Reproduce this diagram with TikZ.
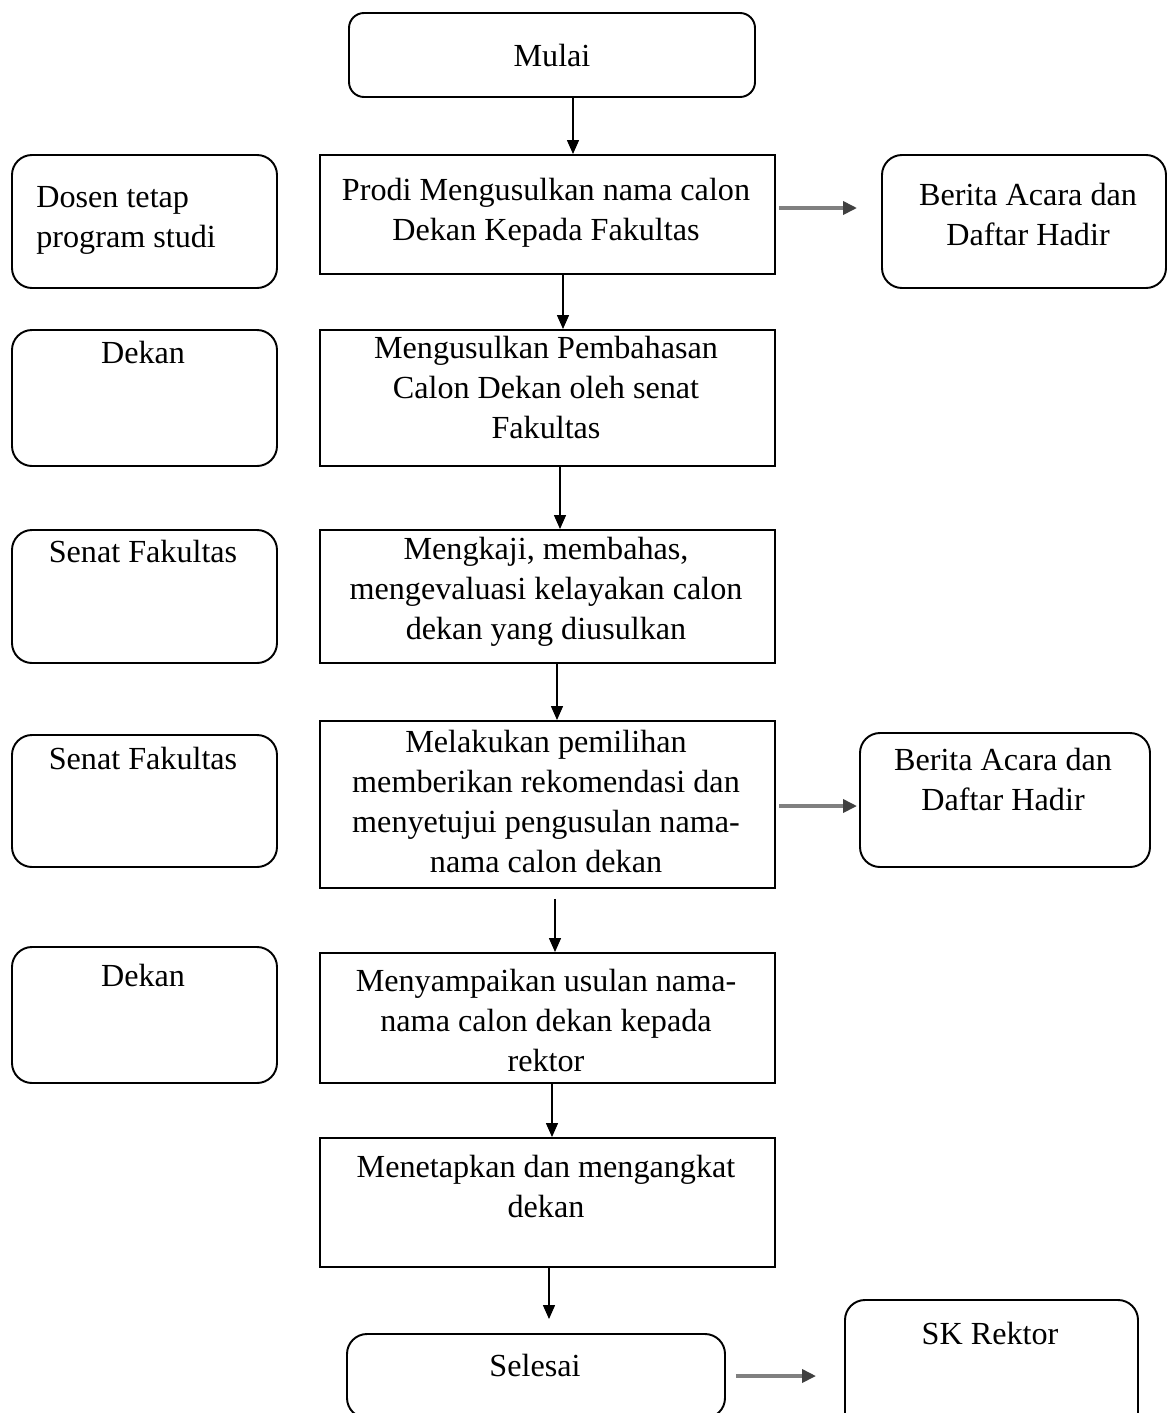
\documentclass[tikz,border=0pt]{standalone}
\usepackage{fontspec}
\setmainfont{Liberation Serif}
\usetikzlibrary{arrows.meta}
\definecolor{arrowgray}{HTML}{808080}

\begin{document}
\begin{tikzpicture}[font=\fontsize{18.3}{22.7}\selectfont,
  procbox/.style={draw, line width=1.1pt, minimum width=9.10cm, inner sep=0pt},
  rolebox/.style={draw, line width=1.1pt, rounded corners=0.4cm, minimum width=5.30cm, inner sep=0pt},
  boxtext/.style={anchor=north, align=center, inner sep=0pt},
  flow/.style={-{Triangle[length=0.28cm, width=0.24cm]}, line width=0.8pt},
  docflow/.style={-{Triangle[length=0.28cm, width=0.26cm, color=black!75]}, line width=2pt, arrowgray}]
\useasboundingbox (0,0) rectangle (23.34,-28.26);
\clip (0,0) rectangle (23.34,-28.26);

% Start
\node[draw, line width=1.1pt, rounded corners=0.3cm, minimum width=8.12cm, minimum height=1.68cm] (mulai) at (11.04,-1.10) {Mulai};

% Left column: who does it
\node[rolebox, minimum height=2.66cm] (dosen) at (2.89,-4.43) {};
\node[boxtext, anchor=north west, align=left] (dosentxt) at (0.72,-3.72) {Dosen tetap\\program studi};
\node[rolebox, minimum height=2.72cm] (dekanA) at (2.89,-7.96) {};
\node[boxtext] (dekanAtxt) at (2.86,-6.82) {Dekan};
\node[rolebox, minimum height=2.66cm] (senatA) at (2.89,-11.93) {};
\node[boxtext] (senatAtxt) at (2.86,-10.80) {Senat Fakultas};
\node[rolebox, minimum height=2.64cm] (senatB) at (2.89,-16.02) {};
\node[boxtext] (senatBtxt) at (2.86,-14.94) {Senat Fakultas};
\node[rolebox, minimum height=2.72cm] (dekanB) at (2.89,-20.30) {};
\node[boxtext] (dekanBtxt) at (2.86,-19.28) {Dekan};

% Middle column: steps
\node[procbox, minimum height=2.38cm] (p1) at (10.95,-4.29) {};
\node[boxtext] (p1txt) at (10.92,-3.56) {Prodi Mengusulkan nama calon\\Dekan Kepada Fakultas};
\node[procbox, minimum height=2.72cm] (p2) at (10.95,-7.96) {};
\node[boxtext] (p2txt) at (10.92,-6.72) {Mengusulkan Pembahasan\\Calon Dekan oleh senat\\Fakultas};
\node[procbox, minimum height=2.66cm] (p3) at (10.95,-11.93) {};
\node[boxtext] (p3txt) at (10.92,-10.74) {Mengkaji, membahas,\\mengevaluasi kelayakan calon\\dekan yang diusulkan};
\node[procbox, minimum height=3.34cm] (p4) at (10.95,-16.09) {};
\node[boxtext] (p4txt) at (10.92,-14.60) {Melakukan pemilihan\\memberikan rekomendasi dan\\menyetujui pengusulan nama-\\nama calon dekan};
\node[procbox, minimum height=2.60cm] (p5) at (10.95,-20.36) {};
\node[boxtext] (p5txt) at (10.92,-19.38) {Menyampaikan usulan nama-\\nama calon dekan kepada\\rektor};
\node[procbox, minimum height=2.58cm] (p6) at (10.95,-24.05) {};
\node[boxtext] (p6txt) at (10.92,-23.10) {Menetapkan dan mengangkat\\dekan};

% End
\node[rolebox, minimum width=7.56cm, minimum height=1.68cm] (selesai) at (10.72,-27.52) {};
\node[boxtext] (selesaitxt) at (10.70,-27.08) {Selesai};

% Right column: documents
\node[rolebox, minimum width=5.68cm, minimum height=2.66cm] (berita1) at (20.48,-4.43) {};
\node[boxtext] (berita1txt) at (20.56,-3.66) {Berita Acara dan\\Daftar Hadir};
\node[rolebox, minimum width=5.80cm, minimum height=2.68cm] (berita2) at (20.10,-16.00) {};
\node[boxtext] (berita2txt) at (20.06,-14.96) {Berita Acara dan\\Daftar Hadir};
\node[rolebox, minimum width=5.86cm, minimum height=3.04cm] (skrektor) at (19.83,-27.52) {};
\node[boxtext] (skrektortxt) at (19.80,-26.44) {SK Rektor};

% Flow
\draw[flow] ([xshift=0.42cm]mulai.south) -- ([xshift=0.51cm]p1.north);
\draw[flow] ([xshift=0.31cm]p1.south) -- ([xshift=0.31cm]p2.north);
\draw[flow] ([xshift=0.25cm]p2.south) -- ([xshift=0.25cm]p3.north);
\draw[flow] ([xshift=0.19cm]p3.south) -- ([xshift=0.19cm]p4.north);
\draw[flow] ([xshift=0.15cm,yshift=-0.2cm]p4.south) -- ([xshift=0.15cm]p5.north);
\draw[flow] ([xshift=0.09cm]p5.south) -- ([xshift=0.09cm]p6.north);
\draw[flow] ([xshift=0.03cm]p6.south) -- ([xshift=0.26cm,yshift=0.28cm]selesai.north);

% Documents
\draw[docflow] ([xshift=0.06cm,yshift=0.13cm]p1.east) -- ([xshift=-0.48cm,yshift=0.27cm]berita1.west);
\draw[docflow] ([xshift=0.06cm,yshift=-0.03cm]p4.east) -- ([xshift=-0.04cm,yshift=-0.12cm]berita2.west);
\draw[docflow] ([xshift=0.2cm]selesai.east) -- ([xshift=-0.56cm]skrektor.west);
\end{tikzpicture}
\end{document}
